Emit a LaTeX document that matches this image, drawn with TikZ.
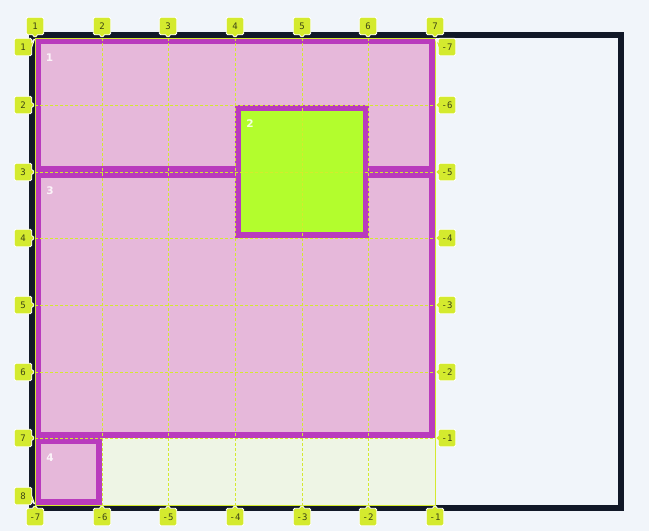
\documentclass[tikz,border=0pt]{standalone}
\usepackage{fontspec}
\setmonofont{DejaVu Sans Mono}
\setsansfont{DejaVu Sans}
\usetikzlibrary{shapes.callouts}
\definecolor{pagebg}{HTML}{F1F5FA}
\definecolor{darkframe}{HTML}{111827}
\definecolor{itemedge}{HTML}{B93BBD}
\definecolor{itempink}{HTML}{E6B8DA}
\definecolor{itemgreen}{HTML}{B3FD2D}
\definecolor{emptycell}{HTML}{EEF5E5}
\definecolor{tagfill}{HTML}{D4EA2E}
\definecolor{tagtext}{HTML}{3D4415}
\tikzset{
  tag/.style={rectangle callout, fill=tagfill, draw=white, line width=0.8pt, rounded corners=1.5pt,
    minimum width=17.5pt, minimum height=17.5pt, inner sep=0pt, callout pointer width=5pt,
    font=\ttfamily\fontsize{9}{9}\selectfont, text=tagtext},
  gridline/.style={draw=tagfill, line width=0.8pt, dash pattern=on 3pt off 2pt},
  itemnum/.style={font=\sffamily\bfseries\fontsize{10.5}{10.5}\selectfont, text=white, text opacity=0.85}
}
\begin{document}
\begin{tikzpicture}[x=1pt, y=-1pt]
\useasboundingbox[fill=pagebg] (0,0) rectangle (649,531);
\draw[darkframe, line width=6pt] (32,35) rectangle (621,508);
\fill[emptycell] (35,438) rectangle (435,505);
% grid items
\fill[itemedge] (35,38) rectangle (435,172);
\fill[itempink] (41,44) rectangle (429,166);
\fill[itemedge] (35,172) rectangle (435,438);
\fill[itempink] (41,178) rectangle (429,432);
\fill[itemedge] (235,105) rectangle (369,238);
\fill[itemgreen] (241,111) rectangle (363,232);
\fill[itemedge] (35,438) rectangle (102,505);
\fill[itempink] (41,444) rectangle (96,499);
\node[itemnum] (num1) at (49.5,58) {1};
\node[itemnum] (num2) at (250,124) {2};
\node[itemnum] (num3) at (50,191) {3};
\node[itemnum] (num4) at (50,458) {4};
% grid lines
\foreach \x in {102,168,235,302,368} \draw[gridline] (\x,38) -- (\x,505);
\foreach \y in {105,172,238,305,372,438} \draw[gridline] (35,\y) -- (435,\y);
\draw[tagfill, line width=0.8pt] (35,38) rectangle (435,505);
% line numbers
\foreach \x [count=\i] in {35,102,168,235,302,368,435} {
  \pgfmathtruncatemacro\neg{\i-8}
  \node[tag, callout absolute pointer={(\x,38)}] (top\i) at (\x,26) {\i};
  \node[tag, callout absolute pointer={(\x,505)}] (bot\i) at (\x,517) {\neg};
}
\foreach \y/\p [count=\i] in {47/38,105/105,172/172,238/238,305/305,372/372,438/438,496/505}
  \node[tag, callout absolute pointer={(35,\p)}] (left\i) at (23,\y) {\i};
\foreach \y/\p [count=\i] in {47/38,105/105,172/172,238/238,305/305,372/372,438/438} {
  \pgfmathtruncatemacro\neg{\i-8}
  \node[tag, callout absolute pointer={(435,\p)}] (right\i) at (447,\y) {\neg};
}
\end{tikzpicture}
\end{document}
